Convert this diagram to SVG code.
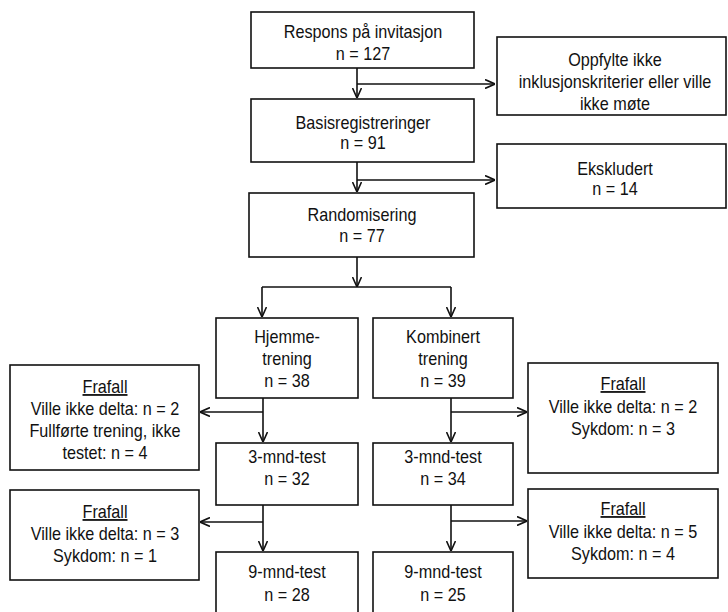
<svg xmlns="http://www.w3.org/2000/svg" width="728" height="612" viewBox="0 0 728 612">
<style>
.box{fill:#fff;stroke:#111;stroke-width:1.6}
.t{font-family:"Liberation Sans",Arial,sans-serif;font-size:18px;fill:#111;text-anchor:middle}
.u{text-decoration:underline}
.c{stroke:#111;stroke-width:1.6;fill:none}
</style>
<defs>
<marker id="ah" viewBox="0 0 10 10" refX="10" refY="5" markerWidth="10" markerHeight="10" markerUnits="userSpaceOnUse" orient="auto">
<path d="M0,0.5 L10,5 L0,9.5" fill="none" stroke="#111" stroke-width="1.6"/>
</marker>
</defs>
<rect width="728" height="612" fill="#fff"/>
<g id="connectors">
<line class="c" x1="357" y1="68" x2="357" y2="98" marker-end="url(#ah)"/>
<line class="c" x1="357" y1="84" x2="495" y2="84" marker-end="url(#ah)"/>
<line class="c" x1="357" y1="162" x2="357" y2="192" marker-end="url(#ah)"/>
<line class="c" x1="357" y1="180" x2="495" y2="180" marker-end="url(#ah)"/>
<line class="c" x1="357" y1="257" x2="357" y2="287" marker-end="url(#ah)"/>
<line class="c" x1="262" y1="287" x2="451" y2="287"/>
<line class="c" x1="262" y1="287" x2="262" y2="317" marker-end="url(#ah)"/>
<line class="c" x1="451" y1="287" x2="451" y2="317" marker-end="url(#ah)"/>
<line class="c" x1="263" y1="398" x2="263" y2="442" marker-end="url(#ah)"/>
<line class="c" x1="263" y1="412" x2="200" y2="412" marker-end="url(#ah)"/>
<line class="c" x1="263" y1="505" x2="263" y2="551" marker-end="url(#ah)"/>
<line class="c" x1="263" y1="522" x2="200" y2="522" marker-end="url(#ah)"/>
<line class="c" x1="451" y1="398" x2="451" y2="442" marker-end="url(#ah)"/>
<line class="c" x1="451" y1="412" x2="527" y2="412" marker-end="url(#ah)"/>
<line class="c" x1="451" y1="505" x2="451" y2="551" marker-end="url(#ah)"/>
<line class="c" x1="451" y1="521" x2="527" y2="521" marker-end="url(#ah)"/>
</g>
<g id="respons">
<rect class="box" x="251" y="12" width="223" height="56"/>
<text class="t" transform="translate(363 38) scale(0.9 1)">Respons på invitasjon</text>
<text class="t" transform="translate(363 60) scale(0.9 1)">n = 127</text>
</g>
<g id="oppfylte">
<rect class="box" x="497" y="37" width="229" height="78"/>
<text class="t" transform="translate(615 66) scale(0.9 1)">Oppfylte ikke</text>
<text class="t" transform="translate(615 88) scale(0.9 1)">inklusjonskriterier eller ville</text>
<text class="t" transform="translate(615 110) scale(0.9 1)">ikke møte</text>
</g>
<g id="basis">
<rect class="box" x="251" y="99" width="223" height="63"/>
<text class="t" transform="translate(363 129) scale(0.9 1)">Basisregistreringer</text>
<text class="t" transform="translate(363 149) scale(0.9 1)">n = 91</text>
</g>
<g id="ekskludert">
<rect class="box" x="497" y="144" width="229" height="64"/>
<text class="t" transform="translate(615 175) scale(0.9 1)">Ekskludert</text>
<text class="t" transform="translate(615 195) scale(0.9 1)">n = 14</text>
</g>
<g id="randomisering">
<rect class="box" x="249" y="193" width="225" height="64"/>
<text class="t" transform="translate(362 221) scale(0.9 1)">Randomisering</text>
<text class="t" transform="translate(362 242) scale(0.9 1)">n = 77</text>
</g>
<g id="hjemme">
<rect class="box" x="216" y="318" width="142" height="80"/>
<text class="t" transform="translate(287 343) scale(0.9 1)">Hjemme-</text>
<text class="t" transform="translate(287 365) scale(0.9 1)">trening</text>
<text class="t" transform="translate(287 387) scale(0.9 1)">n = 38</text>
</g>
<g id="kombinert">
<rect class="box" x="373" y="318" width="140" height="80"/>
<text class="t" transform="translate(443 343) scale(0.9 1)">Kombinert</text>
<text class="t" transform="translate(443 365) scale(0.9 1)">trening</text>
<text class="t" transform="translate(443 387) scale(0.9 1)">n = 39</text>
</g>
<g id="frafall1">
<rect class="box" x="10" y="365" width="189" height="105"/>
<text class="t u" transform="translate(105 393) scale(0.9 1)">Frafall</text>
<text class="t" transform="translate(105 415) scale(0.9 1)">Ville ikke delta: n = 2</text>
<text class="t" transform="translate(105 437) scale(0.9 1)">Fullførte trening, ikke</text>
<text class="t" transform="translate(105 459) scale(0.9 1)">testet: n = 4</text>
</g>
<g id="frafall3">
<rect class="box" x="528" y="363" width="190" height="110"/>
<text class="t u" transform="translate(623 390) scale(0.9 1)">Frafall</text>
<text class="t" transform="translate(623 413) scale(0.9 1)">Ville ikke delta: n = 2</text>
<text class="t" transform="translate(623 435) scale(0.9 1)">Sykdom: n = 3</text>
</g>
<g id="test3left">
<rect class="box" x="216" y="443" width="142" height="62"/>
<text class="t" transform="translate(287 463) scale(0.9 1)">3-mnd-test</text>
<text class="t" transform="translate(287 485) scale(0.9 1)">n = 32</text>
</g>
<g id="test3right">
<rect class="box" x="373" y="443" width="140" height="62"/>
<text class="t" transform="translate(443 463) scale(0.9 1)">3-mnd-test</text>
<text class="t" transform="translate(443 485) scale(0.9 1)">n = 34</text>
</g>
<g id="frafall2">
<rect class="box" x="10" y="490" width="189" height="90"/>
<text class="t u" transform="translate(105 518) scale(0.9 1)">Frafall</text>
<text class="t" transform="translate(105 540) scale(0.9 1)">Ville ikke delta: n = 3</text>
<text class="t" transform="translate(105 562) scale(0.9 1)">Sykdom: n = 1</text>
</g>
<g id="frafall4">
<rect class="box" x="528" y="489" width="190" height="89"/>
<text class="t u" transform="translate(623 515) scale(0.9 1)">Frafall</text>
<text class="t" transform="translate(623 538) scale(0.9 1)">Ville ikke delta: n = 5</text>
<text class="t" transform="translate(623 560) scale(0.9 1)">Sykdom: n = 4</text>
</g>
<g id="test9left">
<rect class="box" x="216" y="552" width="142" height="64"/>
<text class="t" transform="translate(287 578) scale(0.9 1)">9-mnd-test</text>
<text class="t" transform="translate(287 601) scale(0.9 1)">n = 28</text>
</g>
<g id="test9right">
<rect class="box" x="373" y="552" width="140" height="64"/>
<text class="t" transform="translate(443 578) scale(0.9 1)">9-mnd-test</text>
<text class="t" transform="translate(443 601) scale(0.9 1)">n = 25</text>
</g>
</svg>
